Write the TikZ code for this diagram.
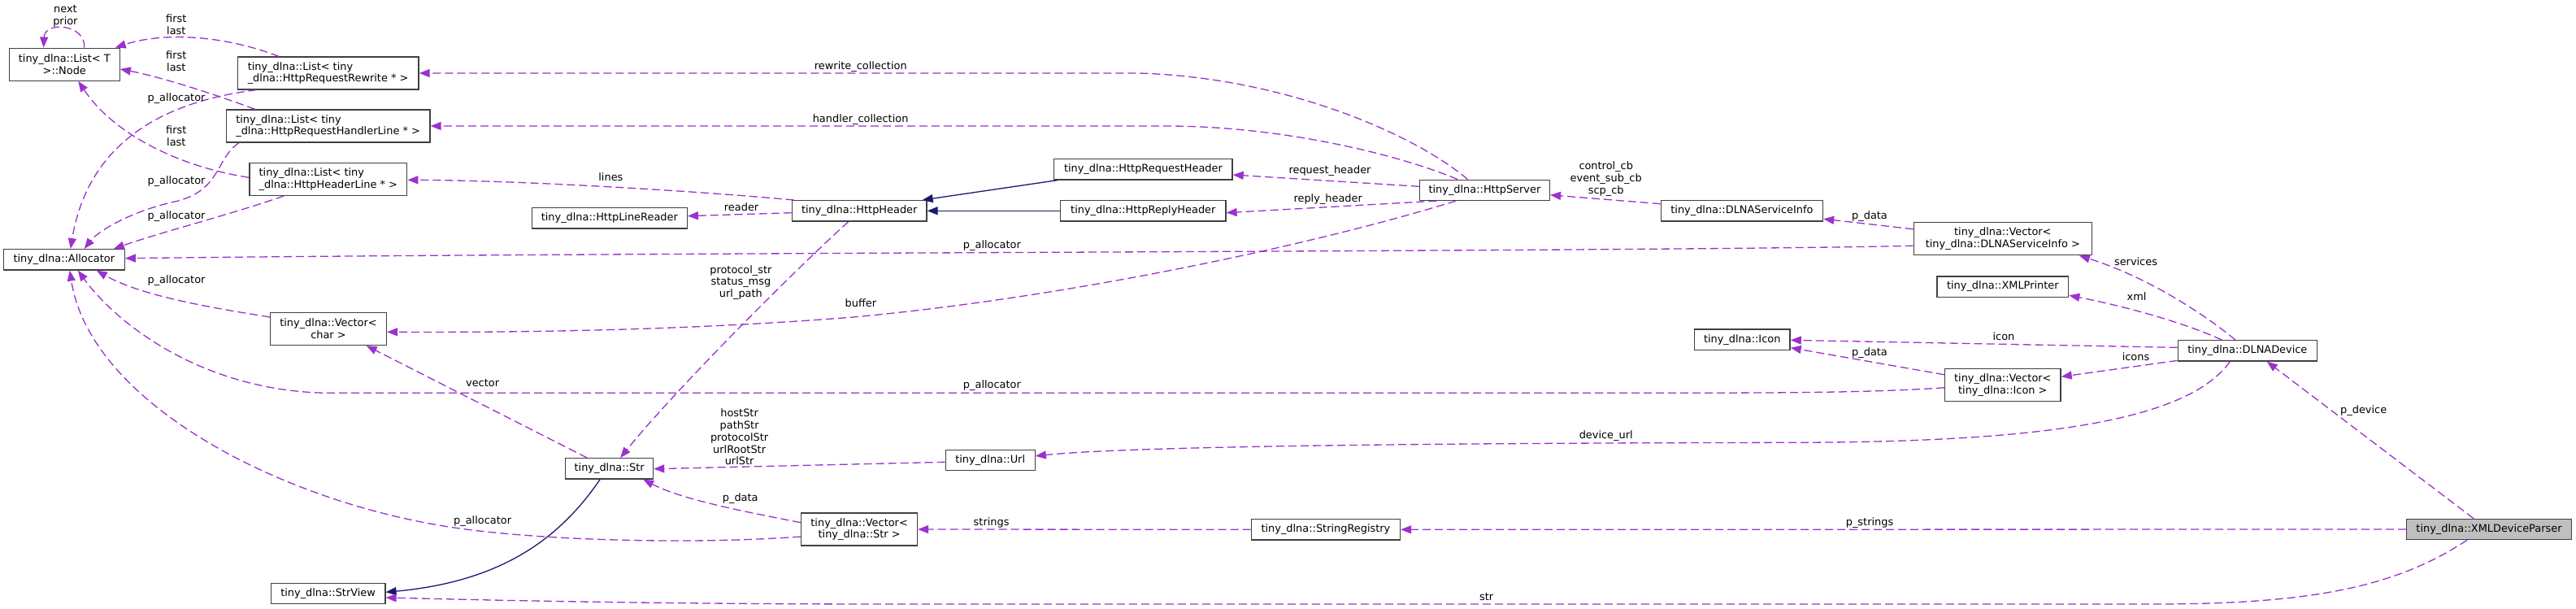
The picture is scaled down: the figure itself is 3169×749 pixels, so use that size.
\documentclass[tikz,border=0pt]{standalone}
\usepackage{fontspec}
\setmainfont{DejaVu Sans}
\usetikzlibrary{arrows.meta,calc}
\definecolor{depc}{HTML}{9A32CD}
\definecolor{inhc}{HTML}{191970}
\definecolor{fillc}{HTML}{BFBFBF}
\definecolor{bord}{HTML}{404040}
\tikzset{
  cls/.style={draw=bord, line width=0.65pt, inner sep=0pt, align=center, minimum height=12.65pt,
    font=\fontsize{6.45pt}{7.35pt}\selectfont},
  two/.style={minimum height=20pt},
  lbl/.style={inner sep=0pt, align=center, font=\fontsize{6.45pt}{7.35pt}\selectfont},
  dep/.style={draw=depc, line width=0.65pt, dash pattern=on 5pt off 2.5pt,
    -{Triangle[length=6.5pt,width=5pt]}},
  inh/.style={draw=inhc, line width=0.65pt, -{Triangle[length=6.5pt,width=5pt]}}
}
\begin{document}
\begin{tikzpicture}[x=0.5pt,y=-0.5pt]
\useasboundingbox (0,0) rectangle (3169,749);
\fill[white] (0,0) rectangle (3169,749);

% nodes
\node[cls, two, minimum width=67.85pt] (Node) at (79.3,79.2) {tiny\_dlna::List< T\\>::Node};
\node[cls, two, align=left, minimum width=111.45pt] (lRew) at (403.6,90) {tiny\_dlna::List< tiny\\\_dlna::HttpRequestRewrite * >};
\node[cls, two, align=left, minimum width=125.35pt] (lHand) at (403.6,155) {tiny\_dlna::List< tiny\\\_dlna::HttpRequestHandlerLine * >};
\node[cls, two, align=left, minimum width=96.95pt] (lHead) at (403.8,220.3) {tiny\_dlna::List< tiny\\\_dlna::HttpHeaderLine * >};
\node[cls, minimum width=74.45pt] (alloc) at (78.8,319.3) {tiny\_dlna::Allocator};
\node[cls, two, minimum width=71.45pt] (vchar) at (404,404.5) {tiny\_dlna::Vector<\\char >};
\node[cls, minimum width=70.35pt] (strview) at (403.6,730) {tiny\_dlna::StrView};
\node[cls, minimum width=95.55pt] (hlr) at (749.8,268.3) {tiny\_dlna::HttpLineReader};
\node[cls, minimum width=53.95pt] (str) at (749.6,576.3) {tiny\_dlna::Str};
\node[cls, minimum width=82.85pt] (hh) at (1057.2,259.3) {tiny\_dlna::HttpHeader};
\node[cls, two, minimum width=71.45pt] (vstr) at (1057.1,651) {tiny\_dlna::Vector<\\tiny\_dlna::Str >};
\node[cls, minimum width=109.65pt] (hreq) at (1406.4,208.3) {tiny\_dlna::HttpRequestHeader};
\node[cls, minimum width=101.65pt] (hrep) at (1406.3,259.3) {tiny\_dlna::HttpReplyHeader};
\node[cls, minimum width=55pt] (url) at (1218.2,565.8) {tiny\_dlna::Url};
\node[cls, minimum width=91.6pt] (sreg) at (1630.9,651.3) {tiny\_dlna::StringRegistry};
\node[cls, minimum width=80pt] (hserv) at (1826.4,233.8) {tiny\_dlna::HttpServer};
\node[cls, minimum width=99.65pt] (dsi) at (2142.9,259.3) {tiny\_dlna::DLNAServiceInfo};
\node[cls, minimum width=58.9pt] (icon) at (2143.2,417.7) {tiny\_dlna::Icon};
\node[cls, two, minimum width=109.45pt] (vdsi) at (2463.8,293.8) {tiny\_dlna::Vector<\\tiny\_dlna::DLNAServiceInfo >};
\node[cls, minimum width=80.9pt] (xmlp) at (2463.8,352.5) {tiny\_dlna::XMLPrinter};
\node[cls, two, minimum width=71.25pt] (vicon) at (2463.8,473.8) {tiny\_dlna::Vector<\\tiny\_dlna::Icon >};
\node[cls, minimum width=85.5pt] (dev) at (2764.8,431.4) {tiny\_dlna::DLNADevice};
\node[cls, fill=fillc, minimum width=101.3pt] (xdp) at (3062,651) {tiny\_dlna::XMLDeviceParser};

% connectors
\draw[dep] ($(Node.north)+(24.3,0)$) .. controls (106,30) and (55,25) .. ($(Node.north)+(-25.7,0)$)
  node[lbl] at (80.4,19.5) {next\\prior};
\draw[dep] ($(lRew.north west)+(51.5,0)$) .. controls (280,45) and (205,38) .. ($(Node.north east)+(-6,0)$)
  node[lbl] at (216.8,30) {first\\last};
\draw[dep] ($(lHand.north west)+(36,0)$) .. controls (270,118) and (200,95) .. ($(Node.east)+(0,5.8)$)
  node[lbl] at (216.8,75.3) {first\\last};
\draw[dep] ($(lHead.west)+(0,-2)$) .. controls (220,205) and (140,165) .. ($(Node.south)+(17,0)$)
  node[lbl] at (216.8,167) {first\\last};

\draw[dep] ($(lRew.south west)+(24,0)$) .. controls (175,128) and (105,195) .. ($(alloc.north)+(8,0)$)
  node[lbl] at (217,120.7) {p\_allocator};
\draw[dep] ($(lHand.south west)+(16.4,0)$) .. controls (265,195) and (272,235) .. (215,248)
  .. controls (160,260) and (120,285) .. ($(alloc.north)+(25,0)$)
  node[lbl] at (217,222.7) {p\_allocator};
\draw[dep] ($(lHead.south west)+(43,0)$) .. controls (290,262) and (200,285) .. ($(alloc.north east)+(-14,0)$)
  node[lbl] at (217,265.7) {p\_allocator};
\draw[dep] ($(vchar.west)+(0,-14.5)$) .. controls (270,380) and (175,365) .. ($(alloc.south)+(40,0)$)
  node[lbl] at (217,344.7) {p\_allocator};
\draw[dep] ($(vdsi.west)+(0,8.5)$) .. controls (2000,310) and (800,310) .. ($(alloc.east)+(0,-1.6)$)
  node[lbl] at (1220.4,301.7) {p\_allocator};
\draw[dep] ($(vicon.west)+(0,3)$) .. controls (2300,483) and (2200,483.3) .. (2000,483.3) -- (400,483.3)
  .. controls (250,480) and (145,400) .. ($(alloc.south)+(17,0)$)
  node[lbl] at (1220.4,474.3) {p\_allocator};
\draw[dep] ($(vstr.west)+(0,9)$) .. controls (850,670) and (650,665) .. (540,646)
  .. controls (330,610) and (110,490) .. ($(alloc.south)+(7,0)$)
  node[lbl] at (593.6,640.7) {p\_allocator};

\draw[dep] ($(hserv.north)+(-21,0)$) .. controls (1740,165) and (1580,95) .. (1400,90) -- (lRew.east)
  node[lbl] at (1058.8,82) {rewrite\_collection};
\draw[dep] ($(hserv.north)+(-33.5,0)$) .. controls (1720,190) and (1580,156) .. (1440,155) -- (lHand.east)
  node[lbl] at (1058.6,146.7) {handler\_collection};
\draw[dep] ($(hh.north west)+(3,0)$) .. controls (870,236) and (650,222) .. ($(lHead.east)+(0,1)$)
  node[lbl] at (751.4,217.3) {lines};
\draw[dep] ($(hh.west)+(0,2.4)$) -- ($(hlr.east)+(0,-2.6)$)
  node[lbl] at (912.1,254.7) {reader};
\draw[dep] ($(hh.south)+(-13.4,0)$) .. controls (980,330) and (830,480) .. ($(str.north)+(13.6,0)$)
  node[lbl] at (911.4,347.5) {protocol\_str\\status\_msg\\url\_path};
\draw[dep] ($(hserv.south)+(-35.4,0)$) .. controls (1620,300) and (1320,365) .. (1050,390)
  .. controls (850,406) and (650,409) .. ($(vchar.east)+(0,3.8)$)
  node[lbl] at (1058.9,372.7) {buffer};

\draw[inh] ($(hreq.south west)+(5,0)$) -- ($(hh.north east)+(-6,0)$);
\draw[inh] (hrep.west) -- (hh.east);

\draw[dep] ($(hserv.west)+(0,-4.5)$) -- ($(hreq.east)+(0,6.7)$)
  node[lbl] at (1636,209.7) {request\_header};
\draw[dep] ($(hserv.south west)+(21.5,0)$) -- ($(hrep.east)+(0,2.4)$)
  node[lbl] at (1633.7,245.3) {reply\_header};
\draw[dep] ($(dsi.west)+(0,-8.6)$) -- ($(hserv.east)+(0,6)$)
  node[lbl] at (1975.7,220.2) {control\_cb\\event\_sub\_cb\\scp\_cb};
\draw[dep] ($(vdsi.west)+(0,-12)$) -- ($(dsi.east)+(0,10)$)
  node[lbl] at (2300,265.7) {p\_data};

\draw[dep] ($(dev.north)+(-14.8,0)$) .. controls (2710,385) and (2640,340) .. ($(vdsi.south east)+(-16,0)$)
  node[lbl] at (2627.5,321.7) {services};
\draw[dep] ($(dev.north)+(-31.5,0)$) .. controls (2690,398) and (2620,378) .. ($(xmlp.east)+(0,10.8)$)
  node[lbl] at (2628.6,364.3) {xml};
\draw[dep] ($(dev.west)+(0,-4)$) -- ($(icon.east)+(0,0.6)$)
  node[lbl] at (2465,413.3) {icon};
\draw[dep] ($(dev.west)+(0,12)$) -- ($(vicon.east)+(0,-10.5)$)
  node[lbl] at (2627.5,438.7) {icons};
\draw[dep] ($(vicon.west)+(0,-13)$) -- ($(icon.east)+(0,10)$)
  node[lbl] at (2300,433.7) {p\_data};

\draw[dep] ($(dev.south)+(-21.5,0)$) .. controls (2690,520) and (2500,544) .. (2200,544.3)
  .. controls (1800,545) and (1400,548) .. ($(url.east)+(0,-5)$)
  node[lbl] at (1975.7,536) {device\_url};
\draw[dep] ($(url.west)+(0,2.5)$) -- ($(str.east)+(0,0.4)$)
  node[lbl] at (909.6,537.5) {hostStr\\pathStr\\protocolStr\\urlRootStr\\urlStr};
\draw[dep] ($(vstr.west)+(0,-8.3)$) .. controls (920,630) and (840,615) .. ($(str.south east)+(-13,0)$)
  node[lbl] at (910.7,612.7) {p\_data};
\draw[dep] ($(str.north)+(-27.5,0)$) -- ($(vchar.south east)+(-25.4,0)$)
  node[lbl] at (593.6,470.7) {vector};

\draw[dep] (sreg.west) -- (vstr.east)
  node[lbl] at (1219.6,642.7) {strings};
\draw[dep] (xdp.west) -- (sreg.east)
  node[lbl] at (2300,642.7) {p\_strings};
\draw[dep] ($(xdp.north)+(-19,0)$) -- ($(dev.south)+(24,0)$)
  node[lbl] at (2907.7,505.3) {p\_device};

\draw[inh] ($(str.south)+(-11.4,0)$) .. controls (690,660) and (620,715) .. ($(strview.east)+(0,-1.7)$);
\draw[dep] ($(xdp.south)+(-27,0)$) .. controls (2950,720) and (2850,743) .. (2650,743) -- (1100,743)
  .. controls (800,743) and (600,738) .. ($(strview.east)+(0,5)$)
  node[lbl] at (1828.6,734.3) {str};
\end{tikzpicture}
\end{document}
